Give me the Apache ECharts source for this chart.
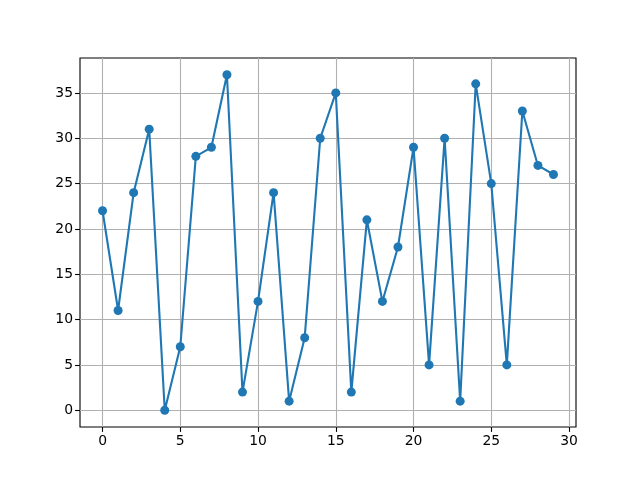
<!DOCTYPE html>
<html>
<head>
<meta charset="utf-8">
<script src="https://cdn.jsdelivr.net/npm/echarts@6/dist/echarts.min.js"></script>
<style>html,body{margin:0;padding:0;background:#fff}#c{width:640px;height:480px}</style>
</head>
<body>
<div id="c"></div>
<script>
var xValues = [0,1,2,3,4,5,6,7,8,9,10,11,12,13,14,15,16,17,18,19,20,21,22,23,24,25,26,27,28,29];
var yValues = [22,11,24,31,0,7,28,29,37,2,12,24,1,8,30,35,2,21,12,18,29,5,30,1,36,25,5,33,27,26];
var xTicks = [0,5,10,15,20,25,30];
var yTicks = [0,5,10,15,20,25,30,35];

var chart = echarts.init(document.getElementById('c'), null, {renderer:'canvas'});
var pts = xValues.map(function(x,i){return [x, yValues[i]];});
var labelStyle = {color:'#000', fontFamily:'DejaVu Sans', fontSize:13.9};
chart.setOption({
  animation:false,
  backgroundColor:'#fff',
  grid:{left:80, right:64, top:58, bottom:53, show:true, borderColor:'#000', borderWidth:1.1, backgroundColor:'transparent'},
  xAxis:{
    type:'value', min:-1.45, max:30.45, interval:5,
    axisLine:{show:false, onZero:false},
    axisTick:{show:true, length:4.9, inside:false, lineStyle:{color:'#000', width:1.1}, customValues:xTicks},
    axisLabel:Object.assign({margin:7, customValues:xTicks, formatter:function(v){return String(v);}}, labelStyle),
    splitLine:{show:true, lineStyle:{color:'#b0b0b0', width:1.1}}
  },
  yAxis:{
    type:'value', min:-1.85, max:38.85, interval:5,
    axisLine:{show:false, onZero:false},
    axisTick:{show:true, length:4.9, inside:false, lineStyle:{color:'#000', width:1.1}, customValues:yTicks},
    axisLabel:Object.assign({margin:7, customValues:yTicks, formatter:function(v){return String(v);}}, labelStyle),
    splitLine:{show:true, lineStyle:{color:'#b0b0b0', width:1.1}}
  },
  series:[{
    type:'line', data:pts, symbol:'circle', symbolSize:9,
    lineStyle:{color:'#1f77b4', width:2.1},
    itemStyle:{color:'#1f77b4', borderWidth:0},
    z:3
  }]
});
</script>
</body>
</html>
